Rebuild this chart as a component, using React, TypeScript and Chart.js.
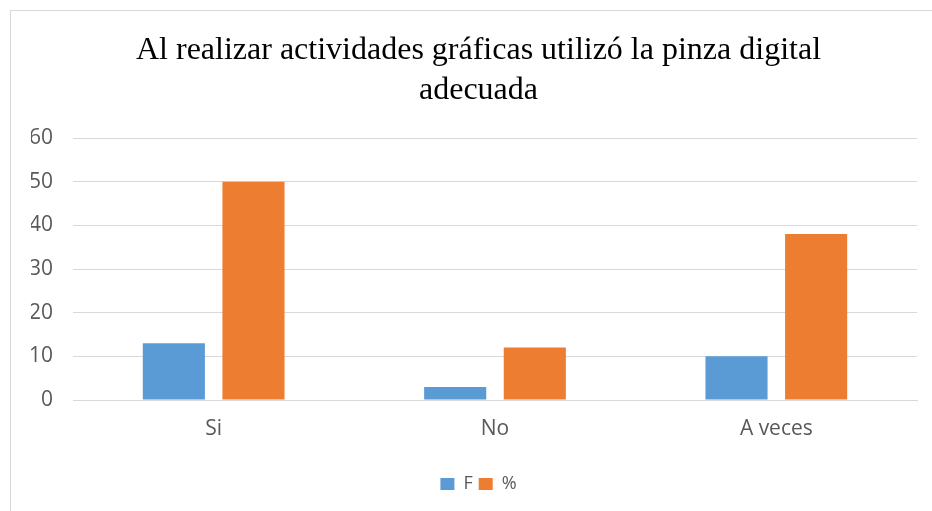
import React, { useEffect, useRef } from "react";
import { Chart, registerables } from "chart.js";

Chart.register(...registerables);

const categories = ["Si", "No", "A veces"];
const seriesF = [13, 3, 10];
const seriesPct = [50, 12, 38];
const titleLines = ["Al realizar actividades gráficas utilizó la pinza digital", "adecuada"];
const yMin = 0;
const yMax = 60;
const yStep = 10;

export default function App() {
  const ref = useRef<HTMLCanvasElement | null>(null);
  useEffect(() => {
    if (!ref.current) return;
    const chart = new Chart(ref.current, {
      type: "bar",
      data: {
        labels: categories,
        datasets: [
          { label: "F", data: seriesF, backgroundColor: "#5B9BD5", categoryPercentage: 0.566, barPercentage: 0.78 },
          { label: "%", data: seriesPct, backgroundColor: "#ED7D31", categoryPercentage: 0.566, barPercentage: 0.78 },
        ],
      },
      options: {
        animation: false,
        responsive: false,
        layout: { padding: { left: 31, right: 6, top: 23, bottom: 8 } },
        plugins: {
          title: {
            display: true,
            text: titleLines,
            color: "#000000",
            font: { family: "'Liberation Serif', 'Times New Roman', serif", size: 32, weight: "normal", lineHeight: 1.25 },
            padding: { top: 8, bottom: 27 },
          },
          legend: {
            position: "bottom",
            labels: {
              color: "#595959",
              font: { family: "'Open Sans', sans-serif", size: 18 },
              boxWidth: 14,
              boxHeight: 12,
              padding: 6,
            },
          },
          tooltip: { enabled: false },
        },
        scales: {
          x: {
            grid: { display: false },
            border: { display: true, color: "#d9d9d9" },
            ticks: { color: "#595959", font: { family: "'Open Sans', sans-serif", size: 21 }, padding: 8 },
            afterFit: (s: any) => { s.height = 69; },
          },
          y: {
            min: yMin,
            max: yMax,
            ticks: { stepSize: yStep, color: "#595959", font: { family: "'Open Sans', sans-serif", size: 21 }, padding: 20 },
            grid: { color: "#d9d9d9", drawTicks: false },
            border: { display: false },
            afterFit: (s: any) => { s.width = 42; },
          },
          y2: {
            position: "right",
            min: yMin,
            max: yMax,
            ticks: { display: false },
            grid: { display: false },
            border: { display: false },
            afterFit: (s: any) => { s.width = 9; },
          },
        },
      },
    });
    return () => chart.destroy();
  }, []);
  return (
    <div style={{ position: "absolute", left: 0, top: 0, width: 932, height: 511, background: "#fff" }}>
      <div style={{ position: "absolute", left: 10, top: 10, width: 940, height: 520, border: "1px solid #d9d9d9" }} />
      <canvas ref={ref} width={932} height={511} style={{ position: "absolute", left: 0, top: 0 }} />
    </div>
  );
}
